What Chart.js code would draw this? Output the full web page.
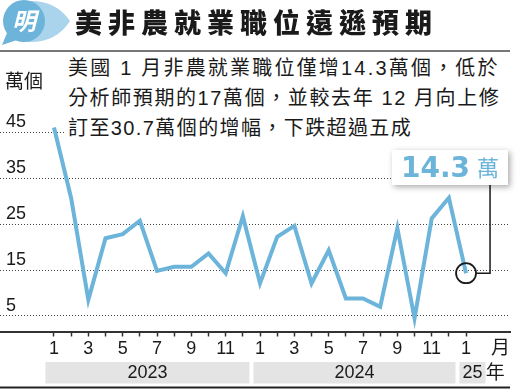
<!DOCTYPE html>
<html>
<head>
<meta charset="utf-8">
<script src="https://cdn.jsdelivr.net/npm/chart.js@4"></script>
<style>
  body { margin: 0; background: #fff; }
  .wrap { position: relative; width: 518px; height: 389px; overflow: hidden; font-family: "Liberation Sans", "Noto Sans CJK TC", sans-serif; color: #1a1a1a; }
  canvas { position: absolute; left: 0; top: 0; }
  .logo { position: absolute; left: 0; top: 0; }
  .title { position: absolute; left: 75px; top: 8px; font: 900 27px/27px "Noto Sans CJK TC", sans-serif; letter-spacing: 6px; white-space: nowrap; }
  .rule { position: absolute; left: 0; top: 50px; width: 510px; height: 1.5px; background: #777; }
  .unit { position: absolute; left: 5px; top: 70px; font-size: 19px; line-height: 24px; }
  .sub { position: absolute; left: 64px; top: 54px; width: 454px; height: 86px; background: #fff; padding-left: 4px; box-sizing: border-box; }
  .sub div { font-size: 20px; line-height: 29.8px; white-space: nowrap; }
</style>
</head>
<body>
<div class="wrap">
  <canvas id="chart" width="518" height="389"></canvas>
  <svg class="logo" width="74" height="46">
    <path d="M28 1 Q56 0 70 21 Q56 43 28 42 Z" fill="#a9d4ec"/>
    <circle cx="24" cy="21" r="21" fill="#6cb4da"/>
    <path d="M7 33 L2 45 L17 40 Z" fill="#6cb4da"/>
    <text x="24" y="30" text-anchor="middle" fill="#fff" font-size="24" font-weight="bold" font-style="italic" font-family="Noto Sans CJK TC">明</text>
  </svg>
  <div class="title">美非農就業職位遠遜預期</div>
  <div class="rule"></div>
  <div class="unit">萬個</div>
  <div class="sub">
    <div style="letter-spacing:2.2px">美國 1 月非農就業職位僅增14.3萬個，低於</div>
    <div style="letter-spacing:1.6px">分析師預期的17萬個，並較去年 12 月向上修</div>
    <div style="letter-spacing:1.4px">訂至30.7萬個的增幅，下跌超過五成</div>
  </div>
</div>
<script>
// 非農就業新增職位（萬個），2023年1月至2025年1月
const MONTHS = [1, 2, 3, 4, 5, 6, 7, 8, 9, 10, 11, 12,
  1, 2, 3, 4, 5, 6, 7, 8, 9, 10, 11, 12, 1];
const JOBS = [46.0, 30.6, 8.5, 21.9, 22.8, 25.7, 14.8, 15.7, 15.7, 18.6, 14.3, 26.7,
  12.1, 22.2, 24.6, 12.1, 19.3, 8.8, 8.8, 7.0, 24.1, 4.5, 26.2, 30.7, 14.3];
const Y_TICKS = [5, 15, 25, 35, 45];
const YEAR_LABELS = ["2023", "2024", "25"];
const YEAR_FIRST = [0, 12, 24];
const YEAR_LAST = [11, 23, 24];

const BLUE = "#6cb4da", INK = "#1a1a1a";
const el = (id) => document.getElementById(id);

const decor = {
  id: "decor",
  afterDraw(chart) {
    const ctx = chart.ctx, x = chart.scales.x;
    const fontNum = '18px "Liberation Sans", sans-serif';
    ctx.save();
    // year bands
    ctx.textAlign = "center"; ctx.textBaseline = "middle";
    YEAR_LABELS.forEach((lab, i) => {
      const isLast = i === YEAR_LABELS.length - 1;
      const x0 = x.getPixelForValue(YEAR_FIRST[i] - 0.5) + (i ? 2 : 0);
      const x1 = isLast ? x0 + 26 : x.getPixelForValue(YEAR_LAST[i] + 0.5) - 2;
      ctx.fillStyle = "#e4e4e4";
      ctx.fillRect(x0, 362, x1 - x0, 21.5);
      ctx.fillStyle = INK; ctx.font = fontNum;
      ctx.fillText(lab, (x0 + x1) / 2, 373);
    });
    ctx.font = '19px "Noto Sans CJK TC", sans-serif';
    ctx.fillText("年", x.getPixelForValue(25.7), 372);
    ctx.fillText("月", x.getPixelForValue(26), 347);
    // bottom rule
    ctx.fillStyle = "#222";
    ctx.fillRect(0, 386.5, 510, 2);

    // callout for latest value
    const meta = chart.getDatasetMeta(0);
    const pt = meta.data[meta.data.length - 1];
    ctx.strokeStyle = INK; ctx.lineWidth = 1.8;
    ctx.beginPath(); ctx.arc(pt.x, pt.y, 10, 0, Math.PI * 2); ctx.stroke();
    ctx.lineWidth = 1.5;
    ctx.beginPath();
    ctx.moveTo(pt.x + 10, pt.y); ctx.lineTo(pt.x + 24, pt.y); ctx.lineTo(pt.x + 24, 185);
    ctx.stroke();
    ctx.shadowColor = "rgba(0,0,0,0.35)"; ctx.shadowBlur = 6;
    ctx.shadowOffsetX = 1.5; ctx.shadowOffsetY = 2;
    ctx.fillStyle = "#fff";
    ctx.fillRect(392, 150, 116, 35);
    ctx.shadowColor = "transparent";
    ctx.fillStyle = BLUE; ctx.textAlign = "left"; ctx.textBaseline = "alphabetic";
    ctx.font = 'bold 28px "DejaVu Sans", sans-serif';
    ctx.fillText(JOBS[JOBS.length - 1].toFixed(1), 401, 177);
    ctx.font = '22px "Noto Sans CJK TC", sans-serif';
    ctx.fillText("萬", 477, 176);
    ctx.restore();
  }
};

new Chart(el("chart"), {
  type: "line",
  data: {
    datasets: [{
      data: JOBS.map((v, i) => ({ x: i, y: v })),
      borderColor: BLUE, borderWidth: 4, pointRadius: 0,
      tension: 0, borderJoinStyle: "miter", clip: false
    }]
  },
  options: {
    responsive: false, animation: false,
    layout: { padding: { left: 0, right: 8, top: 100, bottom: 0 } },
    plugins: { legend: { display: false }, tooltip: { enabled: false } },
    scales: {
      x: {
        type: "linear", min: -3.145, max: 26.56,
        afterBuildTicks: s => { s.ticks = MONTHS.map((m, i) => ({ value: i })); },
        afterFit: s => { s.height = 57.5; },
        grid: { display: true, drawOnChartArea: false, drawTicks: true, tickLength: 5, tickColor: "#333", tickWidth: 1.5 },
        border: { display: true, color: "#333", width: 2 },
        ticks: {
          autoSkip: false, maxRotation: 0, padding: 2, color: INK,
          font: { family: '"Liberation Sans", sans-serif', size: 18 },
          callback: v => (v % 2 === 0 ? String(MONTHS[v]) : "")
        }
      },
      y: {
        min: 1.63, max: 51.96,
        afterBuildTicks: s => { s.ticks = Y_TICKS.map(v => ({ value: v })); },
        afterFit: s => { s.width = 0; },
        grid: { color: "#444", lineWidth: 1, drawTicks: false },
        border: { display: false, dash: [1, 2] },
        ticks: {
          mirror: true, padding: 6, labelOffset: -10, color: INK,
          font: { family: '"Liberation Sans", sans-serif', size: 18 }
        }
      }
    }
  },
  plugins: [decor]
});
</script>
</body>
</html>
